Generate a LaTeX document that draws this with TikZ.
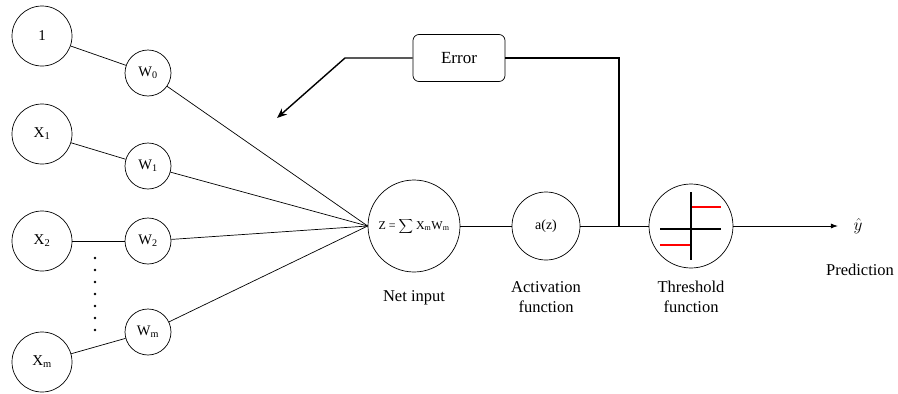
\documentclass[tikz,border=0pt]{standalone}
\usepackage{fontspec}
\setmainfont{Liberation Serif}
\usetikzlibrary{arrows.meta}

\begin{document}
\begin{tikzpicture}[
		x=1pt, y=-1pt,
		every path/.style={line width=0.7pt},
		neuron/.style={draw, circle, minimum size=60pt, inner sep=0pt, font=\fontsize{15}{17}\selectfont},
		weight/.style={draw, circle, minimum size=46pt, inner sep=0pt, font=\fontsize{14.5}{16}\selectfont},
		caption/.style={align=center, font=\fontsize{16.5}{20}\selectfont},
		feedback/.style={line width=1.4pt}
	]
	\useasboundingbox (0,0) rectangle (898,394);

	\node[neuron] (one) at (42,36) {1};
	\node[neuron] (x1) at (42,134) {X\textsubscript{1}};
	\node[neuron] (x2) at (42,241) {X\textsubscript{2}};
	\node[neuron] (xm) at (42,362) {X\textsubscript{m}};

	\node[weight] (w0) at (148,73) {W\textsubscript{0}};
	\node[weight] (w1) at (148,166) {W\textsubscript{1}};
	\node[weight] (w2) at (148,241) {W\textsubscript{2}};
	\node[weight] (wm) at (148,332) {W\textsubscript{m}};

	\foreach \i in {0,...,6}
		\fill (95,258+12*\i) circle (1.3pt);

	\node[draw, circle, minimum size=92pt, inner sep=0pt, font=\fontsize{12}{14}\selectfont] (net) at (414,226) {Z = $\displaystyle\sum$ X\textsubscript{m}W\textsubscript{m}};
	\node[draw, circle, minimum size=68pt, inner sep=0pt, font=\fontsize{14}{16}\selectfont] (act) at (546,226) {a(z)};
	\node[draw, circle, minimum size=84pt, inner sep=0pt] (thr) at (691,226) {};
	\node[font=\fontsize{16}{18}\selectfont] (yhat) at (858,226) {$\hat{y}$};

	\draw (one) -- (w0);
	\draw (x1) -- (w1);
	\draw (x2) -- (w2);
	\draw (xm) -- (wm);
	\foreach \w in {w0,w1,w2,wm}
		\draw (\w) -- (net.west);
	\draw (net) -- (act);
	\draw (act) -- (thr);
	\draw[-{Latex[length=7pt,width=5pt]}, shorten >=12pt] (thr) -- (yhat);

	% step inside the threshold unit
	\draw[line width=1.8pt] (691,192) -- (691,260);
	\draw[line width=1.8pt] (660,229) -- (721,229);
	\draw[line width=1.8pt, red] (692,207) -- (721,207);
	\draw[line width=1.8pt, red] (660,245) -- (690,245);

	\node[draw, rounded corners=6pt, minimum width=92pt, minimum height=47pt, font=\fontsize{17}{20}\selectfont] (err) at (459,58) {Error};
	\coordinate (tap) at (619,226);
	\coordinate (bend) at (345,58);
	\coordinate (back) at (277,118);
	\draw[feedback] (tap) |- (err.east);
	\draw[feedback, -{Stealth[length=10pt,width=8pt]}] (err.west) -- (bend) -- (back);

	\node[caption] (netlbl) at (414,298) {Net input};
	\node[caption] (actlbl) at (546,297) {Activation\\function};
	\node[caption] (thrlbl) at (691,297) {Threshold\\function};
	\node[caption] (predlbl) at (860,270) {Prediction};
\end{tikzpicture}
\end{document}
